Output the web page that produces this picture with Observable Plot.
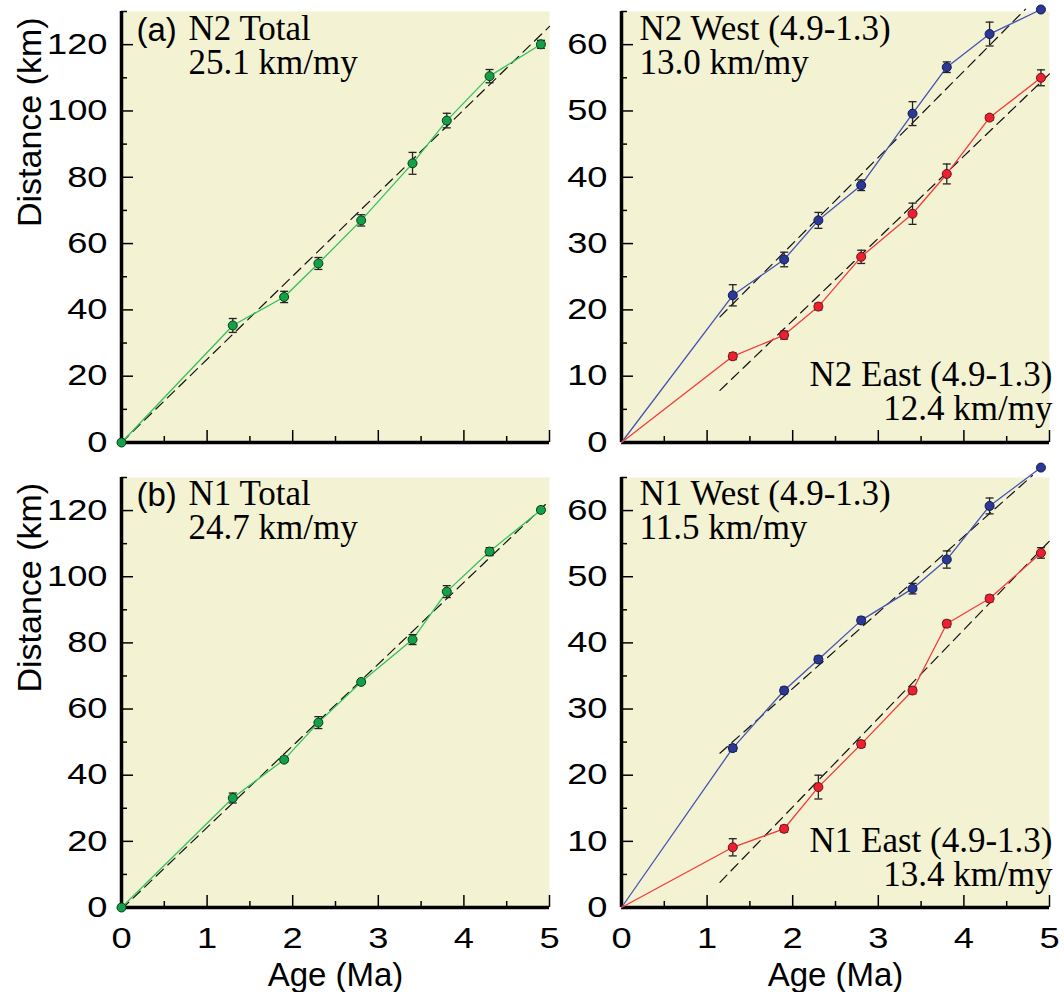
<!DOCTYPE html>
<html><head><meta charset="utf-8">
<script src="https://cdn.jsdelivr.net/npm/d3@7"></script>
<script src="https://cdn.jsdelivr.net/npm/@observablehq/plot@0.6"></script>
<style>
html,body{margin:0;padding:0;background:#fff;}
#fig{position:relative;width:1064px;height:992px;overflow:hidden;}
#fig svg{position:absolute;overflow:visible;}
</style></head><body><div id="fig"></div>
<script>
// ---------------- data ----------------
const originAge = 0, originDist = 0;
const ages = [1.3, 1.9, 2.3, 2.8, 3.4, 3.8, 4.3, 4.9];

const n2Total    = [35.3, 43.9, 54.0, 67.0, 84.2, 97.1, 110.5, 120.1];
const n2TotalErr = [2.1, 1.7, 1.8, 1.7, 3.3, 2.2, 2.0, 1.2];
const n1Total    = [33.1, 44.7, 55.9, 68.2, 81.0, 95.5, 107.6, 120.2];
const n1TotalErr = [1.5, 0.8, 1.8, 0.6, 1.5, 1.8, 1.2, 0.8];

const n2West    = [22.2, 27.6, 33.5, 38.8, 49.6, 56.6, 61.6, 65.3];
const n2WestErr = [1.6, 1.1, 1.2, 0.8, 1.8, 0.8, 1.8, 0];
const n2East    = [13.0, 16.2, 20.5, 28.0, 34.5, 40.5, 49.0, 55.0];
const n2EastErr = [0.5, 0.6, 0.5, 1.0, 1.6, 1.5, 0.4, 1.2];
const n1West    = [24.1, 32.8, 37.5, 43.4, 48.2, 52.6, 60.7, 66.5];
const n1WestErr = [0.5, 0.5, 0.5, 0.5, 0.8, 1.3, 1.2, 0];
const n1East    = [9.1, 11.9, 18.2, 24.7, 32.8, 42.9, 46.7, 53.6];
const n1EastErr = [1.3, 0.5, 1.8, 0.5, 0.5, 0.5, 0.5, 0.8];

// linear fits (dashed): slope km/my, intercept km, age range
const fitNames     = ["N2 Total", "N1 Total", "N2 West", "N2 East", "N1 West", "N1 East"];
const fitSlope     = [25.1, 24.7, 13.0, 12.4, 11.5, 13.4];
const fitIntercept = [0, -0.5, 4.0, -6.4, 10.1, -11.6];
const fitStart     = [0, 0, 1.15, 1.15, 1.15, 1.15];
const fitEnd       = [5.0, 5.0, 4.72, 5.0, 4.8, 5.0];

// ticks / labels
const xTicks = [0, 1, 2, 3, 4, 5];
const xMinor = [0.5, 1.5, 2.5, 3.5, 4.5];
const yTicksTotal = [0, 20, 40, 60, 80, 100, 120];
const yMinorTotal = [10, 30, 50, 70, 90, 110, 130];
const yTicksSide  = [0, 10, 20, 30, 40, 50, 60];
const yMinorSide  = [5, 15, 25, 35, 45, 55, 65];
const xTitle = "Age (Ma)";
const yTitle = "Distance (km)";

const notes = {
  a: ["(a)", "N2 Total\n25.1 km/my"],
  b: ["(b)", "N1 Total\n24.7 km/my"],
  n2w: "N2 West (4.9-1.3)\n13.0 km/my",
  n2e: "N2 East (4.9-1.3)\n12.4 km/my",
  n1w: "N1 West (4.9-1.3)\n11.5 km/my",
  n1e: "N1 East (4.9-1.3)\n13.4 km/my"
};

// ---------------- styles ----------------
const BG = "#f3f2d3";
const SANS = "Liberation Sans, Arial, Helvetica, sans-serif";
const SERIF = "Liberation Serif, Times New Roman, serif";
const GREEN = {line: "#33c25c", fill: "#12a048", stroke: "#0b3b1a"};
const BLUE  = {line: "#4653b2", fill: "#2c3896", stroke: "#10184e"};
const RED   = {line: "#f23c3c", fill: "#ec2030", stroke: "#6e1018"};

const capSymbol = {draw(ctx, size) { const l = Math.sqrt(size / Math.PI); ctx.moveTo(-l, 0); ctx.lineTo(l, 0); }};

function makePanel(p) {
  const marks = [Plot.frame({fill: BG, stroke: "none"})];
  // axis lines
  marks.push(Plot.ruleX([0], {stroke: "#000", strokeWidth: 3.5}));
  marks.push(Plot.ruleY([0], {stroke: "#000", strokeWidth: 3.5}));
  // inward ticks
  marks.push(Plot.axisY(p.yMajor, {anchor: "left", tickSize: 12, dx: 12, fill: "none", label: null, stroke: "#000", strokeWidth: 1.5}));
  marks.push(Plot.axisY(p.yMinor, {anchor: "left", tickSize: 6, dx: 6, fill: "none", label: null, stroke: "#000", strokeWidth: 1.5}));
  marks.push(Plot.axisX(xTicks, {anchor: "bottom", tickSize: 12, dy: -12, fill: "none", label: null, stroke: "#000", strokeWidth: 1.5}));
  marks.push(Plot.axisX(xMinor, {anchor: "bottom", tickSize: 6, dy: -6, fill: "none", label: null, stroke: "#000", strokeWidth: 1.5}));
  // tick labels
  marks.push(Plot.axisY(p.yMajor, {anchor: "left", tickSize: 0, tickPadding: 14, label: null, fill: "#000", fontSize: 29, fontFamily: SANS}));
  if (p.xLabels) {
    marks.push(Plot.axisX(xTicks, {anchor: "bottom", tickSize: 0, tickPadding: 20, label: null, fill: "#000", fontSize: 29, fontFamily: SANS}));
    marks.push(Plot.text([xTitle], {frameAnchor: "bottom", dy: 78, lineAnchor: "bottom", fontSize: 33, fontFamily: SANS, fill: "#000"}));
  }
  if (p.yTitle) {
    marks.push(Plot.text([yTitle], {frameAnchor: "left", rotate: -90, dx: -81, lineAnchor: "bottom", fontSize: 34, fontFamily: SANS, fill: "#000"}));
  }
  // fits
  for (const fi of p.fits) {
    const pts = [fitStart[fi], fitEnd[fi]].map(x => ({x, y: fitSlope[fi] * x + fitIntercept[fi]}));
    marks.push(Plot.line(pts, {x: "x", y: "y", stroke: "#111", strokeWidth: 1.2, strokeDasharray: "10,6"}));
  }
  // series
  for (const s of p.series) {
    const pts = ages.map((a, i) => ({x: a, y: s.y[i], e: s.err[i]}));
    const linePts = [{x: originAge, y: originDist, e: 0}, ...pts];
    marks.push(Plot.line(linePts, {x: "x", y: "y", stroke: s.c.line, strokeWidth: 1.3}));
    const eb = pts.filter(d => d.e > 0);
    marks.push(Plot.ruleX(eb, {x: "x", y1: d => d.y - d.e, y2: d => d.y + d.e, stroke: "#222", strokeWidth: 1.3}));
    marks.push(Plot.dot(eb, {x: "x", y: d => d.y - d.e, symbol: capSymbol, r: 4, fill: "none", stroke: "#222", strokeWidth: 1.3}));
    marks.push(Plot.dot(eb, {x: "x", y: d => d.y + d.e, symbol: capSymbol, r: 4, fill: "none", stroke: "#222", strokeWidth: 1.3}));
    marks.push(Plot.dot(s.originDot ? linePts : pts, {x: "x", y: "y", r: 4.5, fill: s.c.fill, stroke: s.c.stroke, strokeWidth: 1}));
  }
  // annotations
  for (const n of p.notes) marks.push(Plot.text([n.text], {frameAnchor: n.anchor, dx: n.dx, dy: n.dy, lineAnchor: "bottom", textAnchor: n.ta, lineHeight: n.lh || 0.95, fontSize: n.size, fontFamily: n.font, fill: "#000"}));

  const svg = Plot.plot({
    width: p.width, height: p.height,
    marginTop: p.m[0], marginRight: p.m[1], marginBottom: p.m[2], marginLeft: p.m[3],
    x: {domain: [0, 5]},
    y: {domain: p.yDomain},
    style: {fontFamily: SANS, fontSize: "29px", background: "transparent", overflow: "visible"},
    marks
  });
  svg.style.left = p.left + "px";
  svg.style.top = p.top + "px";
  // widen tick-label glyphs like the original typeface
  d3.select(svg).selectAll('g[aria-label$="tick label"] text').each(function () {
    const t = this.getAttribute("transform");
    if (t) this.setAttribute("transform", t + " scale(1.25,1)");
  });
  document.getElementById("fig").appendChild(svg);
}

makePanel({
  left: 0, top: 0, width: 560, height: 460, m: [11, 11, 18, 121],
  yDomain: [0, 130], yMajor: yTicksTotal, yMinor: yMinorTotal, xLabels: false, yTitle: true,
  fits: [0],
  series: [{y: n2Total, err: n2TotalErr, c: GREEN, originDot: true}],
  notes: [
    {text: notes.a[0], anchor: "top-left", dx: 15, dy: 29, ta: "start", size: 33, font: SANS},
    {text: notes.a[1], anchor: "top-left", dx: 67, dy: 62, ta: "start", size: 35, font: SERIF}
  ]
});
makePanel({
  left: 560, top: 0, width: 504, height: 460, m: [11, 15, 18, 61],
  yDomain: [0, 65], yMajor: yTicksSide, yMinor: yMinorSide, xLabels: false, yTitle: false,
  fits: [2, 3],
  series: [{y: n2West, err: n2WestErr, c: BLUE}, {y: n2East, err: n2EastErr, c: RED}],
  notes: [
    {text: notes.n2w, anchor: "top-left", dx: 18, dy: 62, ta: "start", size: 35, font: SERIF},
    {text: notes.n2e, anchor: "bottom-right", dx: 3, dy: -23, ta: "end", size: 35, font: SERIF}
  ]
});
makePanel({
  left: 0, top: 460, width: 560, height: 532, m: [17, 11, 85, 121],
  yDomain: [0, 130], yMajor: yTicksTotal, yMinor: yMinorTotal, xLabels: true, yTitle: true,
  fits: [1],
  series: [{y: n1Total, err: n1TotalErr, c: GREEN, originDot: true}],
  notes: [
    {text: notes.b[0], anchor: "top-left", dx: 15, dy: 28, ta: "start", size: 33, font: SANS},
    {text: notes.b[1], anchor: "top-left", dx: 67, dy: 61, ta: "start", size: 35, font: SERIF}
  ]
});
makePanel({
  left: 560, top: 460, width: 504, height: 532, m: [17, 15, 85, 61],
  yDomain: [0, 65], yMajor: yTicksSide, yMinor: yMinorSide, xLabels: true, yTitle: false,
  fits: [4, 5],
  series: [{y: n1West, err: n1WestErr, c: BLUE}, {y: n1East, err: n1EastErr, c: RED}],
  notes: [
    {text: notes.n1w, anchor: "top-left", dx: 18, dy: 61, ta: "start", size: 35, font: SERIF},
    {text: notes.n1e, anchor: "bottom-right", dx: 3, dy: -22, ta: "end", size: 35, font: SERIF}
  ]
});
</script></body></html>
